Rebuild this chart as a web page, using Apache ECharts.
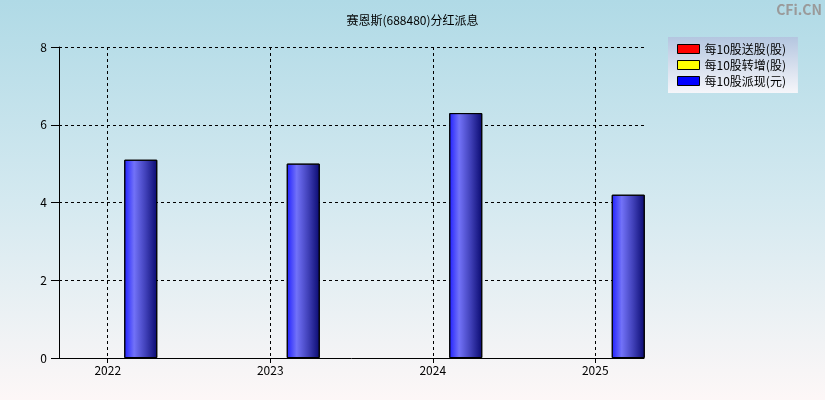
<!DOCTYPE html>
<html lang="zh-CN">
  <head>
    <meta charset="UTF-8" />
    <title>赛恩斯(688480)分红派息</title>
    <script src="https://cdn.jsdelivr.net/npm/echarts@6.0.0/dist/echarts.min.js"></script>
    <style>
      html, body { margin: 0; padding: 0; }
    </style>
  </head>
  <body>
    <div id="chart" style="width: 825px; height: 400px"></div>
    <script>
      // 年份
      const years = [2022, 2023, 2024, 2025]
      // 每10股送股(股)
      const songGu = [0, 0, 0, 0]
      // 每10股转增(股)
      const zhuanZeng = [0, 0, 0, 0]
      // 每10股派现(元)
      const paiXian = [5.1, 5.0, 6.3, 4.2]
      const seriesNames = ['每10股送股(股)', '每10股转增(股)', '每10股派现(元)']
      const yTicks = [0, 2, 4, 6, 8]

      const font = "'Noto Sans CJK SC', sans-serif"
      const pairs = arr => years.map((y, i) => [y, arr[i]])

      const chart = echarts.init(document.getElementById('chart'))

      const blueBar = new echarts.graphic.LinearGradient(0, 0, 1, 0, [
        { offset: 0, color: '#2020ff' },
        { offset: 0.3, color: '#7272f8' },
        { offset: 0.65, color: '#4040b8' },
        { offset: 1, color: '#0a0a70' },
      ])

      const option = {
        backgroundColor: new echarts.graphic.LinearGradient(0, 0, 0, 1, [
          { offset: 0, color: '#b0dae6' },
          { offset: 0.5, color: '#d4e9f0' },
          { offset: 1, color: '#fdf7f7' },
        ]),
        textStyle: { fontFamily: font },
        title: {
          text: '赛恩斯(688480)分红派息',
          left: 'center',
          top: 9,
          textStyle: { fontSize: 12, fontWeight: 'normal', color: '#000', fontFamily: font },
        },
        graphic: [
          {
            type: 'text',
            right: 3,
            top: 3,
            style: { text: 'CFi.CN', fill: '#9a9a9a', font: 'bold 14px ' + font },
          },
        ],
        legend: {
          orient: 'vertical',
          left: 668,
          top: 37,
          padding: [6, 12, 6, 9],
          itemWidth: 22,
          itemHeight: 9,
          itemGap: 4,
          backgroundColor: new echarts.graphic.LinearGradient(0, 0, 0, 1, [
            { offset: 0, color: '#b4c6e0' },
            { offset: 1, color: '#f6f6fa' },
          ]),
          textStyle: { fontSize: 12, color: '#000', fontFamily: font },
          data: [
            { name: seriesNames[0], icon: 'rect', itemStyle: { color: '#ff0000', borderColor: '#000', borderWidth: 1 } },
            { name: seriesNames[1], icon: 'rect', itemStyle: { color: '#ffff00', borderColor: '#000', borderWidth: 1 } },
            { name: seriesNames[2], icon: 'rect', itemStyle: { color: '#0000ff', borderColor: '#000', borderWidth: 1 } },
          ],
        },
        grid: { left: 59, right: 181, top: 47, bottom: 42 },
        xAxis: {
          type: 'value',
          min: 2021.7,
          max: 2025.3,
          axisLine: { show: true, onZero: false, lineStyle: { color: '#000', width: 1 } },
          axisTick: { show: true, length: 5, customValues: years, lineStyle: { color: '#000' } },
          axisLabel: {
            customValues: years,
            margin: 6,
            fontSize: 12,
            color: '#000',
            fontFamily: font,
            formatter: v => String(v),
          },
          splitLine: {
            show: true,
            showMinLine: true,
            showMaxLine: true,
            lineStyle: { color: '#000', type: [3, 3], width: 1 },
          },
        },
        yAxis: {
          type: 'value',
          min: yTicks[0],
          max: yTicks[yTicks.length - 1],
          interval: 2,
          axisLine: { show: true, lineStyle: { color: '#000', width: 1 } },
          axisTick: { show: true, length: 8, lineStyle: { color: '#000' } },
          axisLabel: { margin: 12, fontSize: 12, color: '#000', fontFamily: font },
          splitLine: {
            show: true,
            showMinLine: false,
            lineStyle: { color: '#000', type: [3, 3], width: 1 },
          },
        },
        series: [
          {
            name: seriesNames[0],
            type: 'bar',
            barWidth: 33,
            barGap: '0%',
            itemStyle: { color: '#ff0000', borderWidth: 0 },
            data: pairs(songGu),
          },
          {
            name: seriesNames[1],
            type: 'bar',
            barWidth: 33,
            barGap: '0%',
            itemStyle: { color: '#ffff00', borderWidth: 0 },
            data: pairs(zhuanZeng),
          },
          {
            name: seriesNames[2],
            type: 'bar',
            barWidth: 33,
            barGap: '0%',
            itemStyle: { color: blueBar, borderColor: '#000', borderWidth: 1 },
            data: pairs(paiXian),
          },
        ],
      }

      chart.setOption(option)
    </script>
  </body>
</html>
